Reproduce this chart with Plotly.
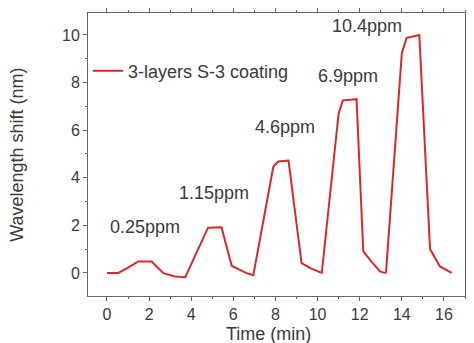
import plotly.graph_objects as go

# Data
time_min = [0, 0.54, 1.0, 1.49, 2.12, 2.68, 3.23, 3.72,
            4.8, 5.44, 5.68, 5.93, 6.63, 6.95,
            7.9, 8.13, 8.62, 9.24, 9.7, 10.1,
            10.2, 11.0, 11.2, 11.85, 12.17, 12.49, 12.96, 13.2,
            13.25, 14.0, 14.23, 14.83, 15.34, 15.81, 16.37]
shift_nm = [0, 0, 0.22, 0.48, 0.48, -0.01, -0.15, -0.18,
            1.9, 1.92, 1.1, 0.29, -0.01, -0.1,
            4.47, 4.68, 4.72, 0.41, 0.18, 0.01,
            0.0, 6.7, 7.25, 7.3, 0.9, 0.55, 0.06, 0.0,
            0.02, 9.23, 9.88, 10.0, 1.0, 0.27, 0.0]

series_name = "3-layers S-3 coating"
conc_labels = ["0.25ppm", "1.15ppm", "4.6ppm", "6.9ppm", "10.4ppm"]
conc_x = [1.8, 5.08, 8.45, 11.44, 12.37]
conc_y = [1.93, 3.36, 6.13, 8.28, 10.38]

x_ticks = [0, 2, 4, 6, 8, 10, 12, 14, 16]
y_ticks = [0, 2, 4, 6, 8, 10]

FONT = "Liberation Sans, Arial, sans-serif"
TXT = "#3a3a3a"
AX = "#666666"

fig = go.Figure()
fig.add_trace(go.Scatter(x=time_min, y=shift_nm, mode="lines", name=series_name,
                         line=dict(color="#d62a2a", width=2)))

for lab, xx, yy in zip(conc_labels, conc_x, conc_y):
    fig.add_annotation(x=xx, y=yy, text=lab, showarrow=False,
                       font=dict(family=FONT, size=18, color=TXT))

# axis titles
fig.add_annotation(xref="paper", yref="paper", x=0.48, y=-0.135, text="Time (min)",
                   showarrow=False, xanchor="center", yanchor="middle",
                   font=dict(family=FONT, size=18, color=TXT))
fig.add_annotation(xref="paper", yref="paper", x=-0.19, y=0.5, text="Wavelength shift (nm)",
                   showarrow=False, textangle=-90, xanchor="center", yanchor="middle",
                   font=dict(family=FONT, size=18, color=TXT))

axis_common = dict(showline=True, linecolor=AX, linewidth=1, mirror="ticks",
                   ticks="outside", ticklen=4, tickcolor=AX, tickwidth=1,
                   showgrid=False, zeroline=False,
                   tickfont=dict(family=FONT, size=16, color=TXT))

fig.update_xaxes(range=[-0.9, 17.0], tickvals=x_ticks, **axis_common,
                 minor=dict(dtick=1, tick0=0, ticks="outside", ticklen=2, tickcolor=AX))
fig.update_yaxes(range=[-0.97, 10.92], tickvals=y_ticks, **axis_common,
                 minor=dict(dtick=1, tick0=0, ticks="outside", ticklen=2, tickcolor=AX))

# page body adds an 8px offset; size the figure to compensate
fig.update_layout(width=466, height=335,
                  margin=dict(l=80, r=9, t=5, b=47, autoexpand=False),
                  plot_bgcolor="white", paper_bgcolor="white",
                  showlegend=True,
                  legend=dict(x=0.0, y=0.795, xanchor="left", yanchor="middle",
                              bgcolor="rgba(0,0,0,0)",
                              font=dict(family=FONT, size=18, color=TXT)))

fig.write_html("out.html")
